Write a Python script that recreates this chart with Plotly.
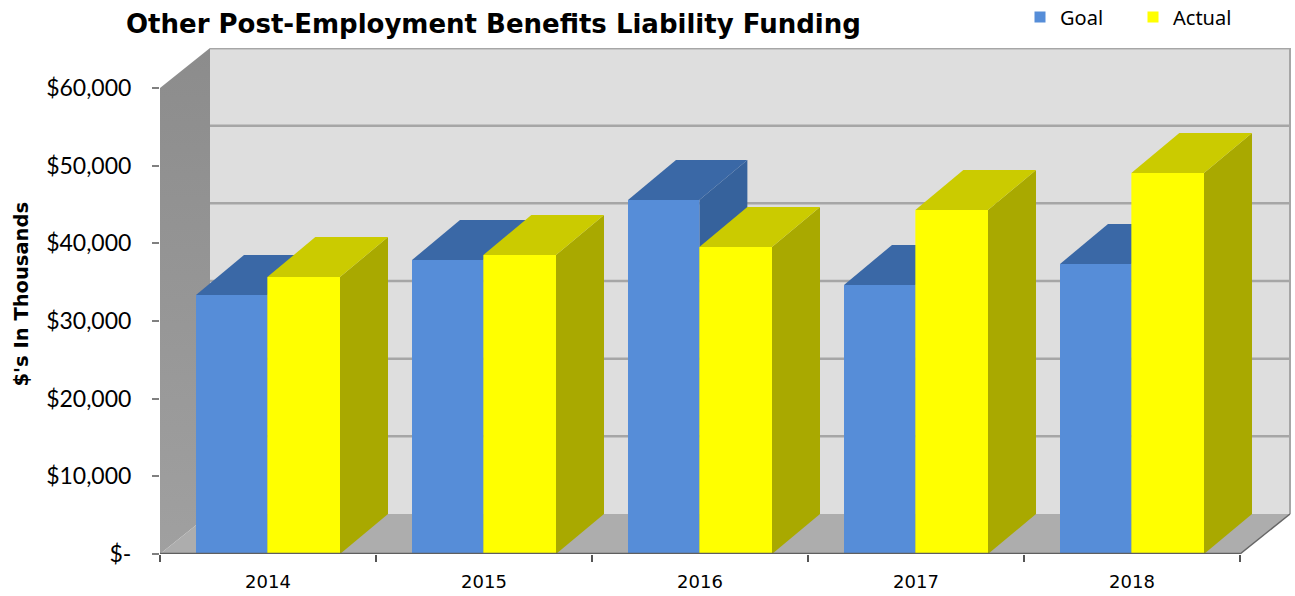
import plotly.graph_objects as go

years = ["2014", "2015", "2016", "2017", "2018"]
goal = [33350, 37850, 45580, 34640, 37340]
actual = [35660, 38500, 39530, 44290, 49060]
y_ticks = [0, 10000, 20000, 30000, 40000, 50000, 60000]
y_labels = ["$-", "$10,000", "$20,000", "$30,000", "$40,000", "$50,000", "$60,000"]

title = "Other Post-Employment Benefits Liability Funding"
y_title = "$'s In Thousands"

WALL_DX = 50 / 216
BAR_DX = 48 / 216
DY = 40 / 466 * 60000
N = len(years)
Y_TOP = 60000 + DY
GOAL_X = (1 / 6, 0.497)
ACTUAL_X = (0.497, 5 / 6)

GOAL_C = dict(front="#568dd8", top="#3a68a6", side="#36629c")
ACTUAL_C = dict(front="#ffff00", top="#cbcb00", side="#a9a900")

fig = go.Figure()


def poly(xs, ys, color, **kw):
    fig.add_trace(go.Scatter(x=xs, y=ys, mode="lines", fill="toself", fillcolor=color,
                             line=dict(width=0, color=color), hoverinfo="skip",
                             showlegend=False, cliponaxis=False, **kw))


def seg(xs, ys, color, width):
    fig.add_trace(go.Scatter(x=xs, y=ys, mode="lines", line=dict(color=color, width=width),
                             hoverinfo="skip", showlegend=False, cliponaxis=False))


# back wall
poly([WALL_DX, N + WALL_DX, N + WALL_DX, WALL_DX], [DY, DY, Y_TOP, Y_TOP], "#dedede")
# left wall
fig.add_trace(go.Scatter(x=[0, WALL_DX, WALL_DX, 0], y=[0, DY, Y_TOP, 60000], mode="lines", fill="toself",
                         fillgradient=dict(type="vertical", colorscale=[[0, "#a0a0a0"], [1, "#8c8c8c"]]),
                         line=dict(width=0), hoverinfo="skip", showlegend=False, cliponaxis=False))
# floor
poly([0, WALL_DX, N + WALL_DX, N], [0, DY, DY, 0], "#adadad")
# gridlines on back wall
for t in y_ticks[1:]:
    seg([WALL_DX, N + WALL_DX], [t + DY, t + DY], "#a6a6a6", 2.5)
seg([WALL_DX, N + WALL_DX], [Y_TOP, Y_TOP], "#a6a6a6", 2.5)
seg([N + WALL_DX, N + WALL_DX], [DY, Y_TOP], "#a6a6a6", 2)
seg([N, N + WALL_DX], [0, DY], "#666666", 1.5)


def bar(i, v, span, c):
    x0, x1 = i + span[0], i + span[1]
    poly([x1, x1 + BAR_DX, x1 + BAR_DX, x1], [0, DY, v + DY, v], c["side"])
    poly([x0, x0 + BAR_DX, x1 + BAR_DX, x1], [v, v + DY, v + DY, v], c["top"])
    poly([x0, x1, x1, x0], [0, 0, v, v], c["front"])


for i in range(N):
    bar(i, goal[i], GOAL_X, GOAL_C)
    bar(i, actual[i], ACTUAL_X, ACTUAL_C)

seg([0, N], [0, 0], "#5f5f5f", 2.5)

# legend entries
for name, col in (("Goal", GOAL_C["front"]), ("Actual", ACTUAL_C["front"])):
    fig.add_trace(go.Scatter(x=[None], y=[None], mode="markers", name=name,
                             marker=dict(symbol="square", size=11, color=col)))

fig.update_layout(
    width=1295, height=596,
    margin=dict(l=160, r=0, t=48, b=42, autoexpand=False),
    paper_bgcolor="white", plot_bgcolor="white",
    title=dict(text="<b>" + title + "</b>", x=126 / 1295, xanchor="left", y=1 - 24 / 596, yanchor="middle",
               font=dict(family="DejaVu Sans", size=26, color="black")),
    legend=dict(orientation="h", xref="container", yref="container", x=1020 / 1295, y=1 - 17 / 596,
                yanchor="middle", xanchor="left",
                font=dict(family="Noto Sans", size=20, color="black"), entrywidth=68, entrywidthmode="pixels",
                bgcolor="rgba(0,0,0,0)", itemsizing="trace"),
    xaxis=dict(range=[0, (1295 - 160) / 216], showgrid=False, zeroline=False, showline=False, automargin=False,
               tickmode="array", tickvals=[i + 0.5 for i in range(N)], ticktext=years, ticks="",
               tickfont=dict(family="DejaVu Sans", size=18, color="black"),
               minor=dict(tick0=0, dtick=1, ticks="outside", ticklen=7, tickcolor="#555555", tickwidth=1.5, showgrid=False),
               ticklabelstandoff=15, fixedrange=True),
    yaxis=dict(range=[0, Y_TOP], showgrid=False, zeroline=False, showline=False, automargin=False,
               tickmode="array", tickvals=y_ticks, ticktext=y_labels, ticks="outside", ticklen=7,
               tickcolor="#808080", tickwidth=1.5, ticklabelstandoff=16,
               tickfont=dict(family="Lato", size=23, color="black"),
               title=dict(text="<b>&nbsp;&nbsp;" + y_title + "</b>", standoff=12,
                          font=dict(family="DejaVu Sans", size=19.5, color="black")),
               fixedrange=True),
)
# remove the page body's default margin so the figure fills the window exactly
fig.write_html("out.html", config=dict(displayModeBar=False),
               post_script="document.body.style.margin='0';")
